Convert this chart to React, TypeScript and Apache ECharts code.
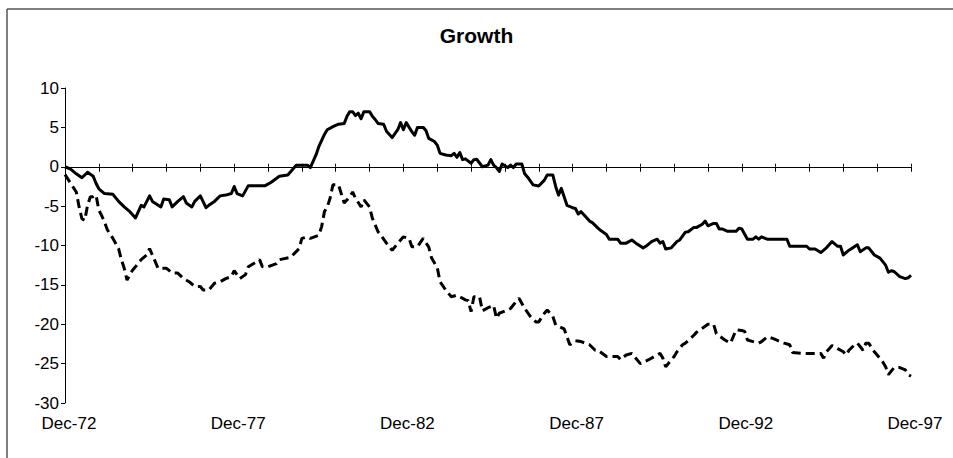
import React, { useEffect, useRef } from "react";
import * as echarts from "echarts";

// Months since Dec-72 and the value read at that month
const solidMonths = [0, 2, 4, 6, 8, 10, 11, 12, 14, 17, 19, 21, 23, 25, 27, 28, 30, 31, 34, 35, 37, 38, 40, 42, 43, 45, 46, 48, 50, 51, 53, 55, 57, 59, 60, 61, 63, 65, 71, 73, 76, 79, 82, 86, 87, 89, 90, 92, 93, 95, 97, 99, 100, 101, 102, 103, 104, 105, 106, 108, 109, 110, 111, 113, 114, 116, 118, 119, 120, 121, 123, 124, 125, 127, 128, 129, 131, 132, 133, 135, 137, 138, 139, 140, 141, 142, 144, 145, 146, 148, 150, 151, 152, 153, 154, 155, 157, 158, 159, 160, 162, 163, 164, 166, 168, 170, 171, 173, 174, 175, 176, 177, 178, 180, 181, 182, 183, 184, 186, 187, 189, 190, 192, 193, 196, 197, 199, 201, 203, 205, 206, 208, 210, 211, 212, 213, 215, 217, 218, 220, 221, 223, 224, 226, 227, 228, 230, 231, 232, 233, 235, 238, 239, 240, 242, 244, 245, 246, 247, 249, 256, 257, 263, 264, 266, 268, 270, 272, 274, 275, 276, 278, 281, 282, 284, 285, 287, 289, 291, 292, 293, 294, 296, 298, 299, 300];
const solidValues = [0, -0.3, -0.9, -1.4, -0.7, -1.2, -2.1, -2.8, -3.4, -3.5, -4.4, -5.1, -5.7, -6.5, -4.9, -5.1, -3.7, -4.4, -5.1, -4.1, -4.2, -5.1, -4.4, -3.8, -4.6, -5.1, -4.4, -3.7, -5.2, -4.9, -4.4, -3.7, -3.6, -3.4, -2.5, -3.4, -3.7, -2.4, -2.4, -2.0, -1.2, -1.05, 0.2, 0.2, -0.1, 1.5, 2.55, 4.1, 4.7, 5.1, 5.4, 5.5, 6.4, 7.0, 7.0, 6.5, 6.8, 6.1, 7.0, 7.0, 6.4, 6.0, 5.5, 5.4, 4.5, 3.7, 4.7, 5.6, 4.7, 5.6, 4.45, 4.0, 5.0, 5.0, 4.6, 3.6, 3.2, 2.75, 1.7, 1.5, 1.4, 1.7, 1.2, 1.8, 0.9, 1.0, 0.45, 0.9, 0.95, 0.0, 0.2, 0.9, 0.2, -0.1, -0.6, 0.35, -0.1, 0.2, -0.1, 0.35, 0.35, -0.9, -1.3, -2.3, -2.45, -1.7, -1.05, -1.05, -2.5, -3.6, -2.75, -3.8, -4.9, -5.2, -5.3, -6.0, -5.7, -6.1, -6.9, -7.1, -7.8, -8.1, -8.6, -9.2, -9.2, -9.7, -9.7, -9.3, -9.85, -10.3, -10.1, -9.5, -9.2, -9.7, -9.5, -10.45, -10.3, -9.5, -9.3, -8.3, -8.25, -7.7, -7.7, -7.3, -6.9, -7.5, -7.2, -7.2, -7.9, -7.9, -8.2, -8.2, -7.8, -7.9, -9.2, -9.2, -8.9, -9.2, -8.9, -9.2, -9.2, -10.1, -10.1, -10.45, -10.45, -10.9, -10.3, -9.5, -10.1, -10.1, -11.2, -10.6, -9.9, -10.8, -10.3, -10.3, -11.2, -11.6, -12.5, -13.4, -13.2, -13.3, -13.95, -14.2, -14.1, -13.8];

const dashedMonths = [0, 2, 4, 5, 6, 7, 8, 9, 10, 11, 12, 13, 14, 15, 17, 19, 20, 21, 22, 23, 24, 25, 27, 29, 30, 32, 33, 36, 38, 40, 42, 44, 46, 48, 49, 51, 53, 55, 57, 59, 60, 62, 64, 65, 68, 69, 70, 72, 75, 76, 80, 83, 84, 86, 87, 90, 91, 92, 93, 94, 95, 97, 99, 101, 102, 103, 105, 106, 108, 109, 111, 112, 114, 116, 119, 120, 122, 123, 125, 127, 129, 130, 132, 133, 135, 137, 139, 140, 142, 143, 144, 145, 147, 148, 150, 152, 153, 154, 157, 158, 160, 161, 163, 165, 167, 168, 170, 171, 173, 174, 177, 178, 179, 180, 181, 183, 186, 188, 189, 192, 196, 197, 199, 201, 204, 207, 209, 211, 212, 213, 216, 217, 219, 220, 223, 224, 226, 228, 230, 231, 234, 236, 238, 240, 241, 242, 245, 246, 247, 249, 251, 253, 255, 257, 258, 261, 268, 269, 270, 272, 274, 276, 277, 278, 280, 281, 283, 284, 285, 287, 288, 290, 291, 292, 294, 296, 298, 299, 300];
const dashedValues = [-1.0, -2.1, -3.2, -5.1, -6.6, -6.8, -4.9, -3.8, -3.8, -3.6, -5.5, -6.2, -7.0, -8.0, -9.1, -10.4, -11.8, -12.9, -14.4, -13.7, -13.1, -12.7, -11.8, -11.2, -10.4, -12.05, -12.9, -12.9, -13.5, -13.5, -14.2, -14.6, -15.2, -15.2, -15.65, -15.65, -14.8, -14.6, -14.2, -13.95, -13.2, -14.2, -13.7, -12.7, -12.05, -11.8, -12.7, -12.7, -12.3, -11.8, -11.5, -10.4, -9.1, -8.9, -9.1, -8.7, -7.6, -5.7, -5.1, -4.0, -2.3, -2.3, -4.6, -3.8, -3.2, -4.0, -5.1, -4.2, -5.1, -6.55, -8.25, -8.7, -9.7, -10.6, -9.3, -8.9, -9.1, -10.15, -10.15, -9.1, -10.2, -11.6, -12.8, -14.6, -15.65, -16.5, -16.3, -16.5, -16.9, -17.0, -18.4, -16.5, -16.5, -18.3, -17.9, -17.6, -19.25, -18.6, -18.2, -18.0, -17.1, -16.7, -18.0, -19.0, -19.7, -19.7, -18.6, -18.2, -19.0, -20.1, -20.6, -21.6, -22.6, -22.4, -22.1, -22.2, -22.6, -23.3, -23.3, -24.1, -24.1, -24.5, -23.9, -23.7, -25.0, -24.5, -24.1, -23.7, -24.3, -25.4, -24.1, -23.5, -22.6, -22.4, -21.4, -21.0, -20.5, -20.0, -20.0, -21.2, -22.0, -22.4, -20.7, -20.8, -20.9, -22.0, -22.3, -22.4, -22.2, -21.6, -21.8, -22.1, -22.4, -22.6, -23.6, -23.7, -23.7, -24.3, -23.5, -22.7, -23.1, -23.5, -23.9, -23.3, -22.6, -22.4, -23.3, -22.4, -22.4, -23.5, -23.9, -24.8, -25.4, -26.4, -25.5, -25.5, -25.8, -26.4, -26.6];

const titleText = "Growth";
const startYear = 72;
const totalMonths = 300;
const yMin = -30;
const yMax = 10;
const yStep = 5;

export default function App() {
  const ref = useRef<HTMLDivElement>(null);

  useEffect(() => {
    if (!ref.current) return;
    const chart = echarts.init(ref.current, null, { renderer: "svg" });
    const font = "'Liberation Sans', Arial, Helvetica, sans-serif";
    const black = "#000";
    const xBase = { type: "value", min: 0, max: totalMonths, interval: 12, splitLine: { show: false } };
    const yBase = { type: "value", min: yMin, max: yMax, interval: yStep, splitLine: { show: false } };
    const solidData = solidMonths.map((m, i) => [m, solidValues[i]]);
    const dashedData = dashedMonths.map((m, i) => [m, dashedValues[i]]);

    chart.setOption({
      animation: false,
      backgroundColor: "#fff",
      title: {
        text: titleText,
        left: "center",
        top: 20,
        textStyle: { fontFamily: font, fontSize: 21, fontWeight: "bold", color: black },
      },
      grid: { left: 65, right: 42, top: 88, bottom: 55 },
      xAxis: [
        {
          ...xBase,
          position: "bottom",
          axisLine: { show: false, onZero: false },
          axisTick: { show: false },
          axisLabel: {
            margin: 12,
            fontSize: 17,
            fontFamily: font,
            color: black,
            padding: [0, 0, 0, 8],
            formatter: (v: number) => (v % 60 === 0 ? "Dec-" + (startYear + v / 12) : ""),
          },
        },
        {
          ...xBase,
          position: "bottom",
          axisLine: { show: true, onZero: true, onZeroAxisIndex: 0, lineStyle: { color: black, width: 1 } },
          axisTick: { show: true, length: 5, lineStyle: { color: black, width: 1 } },
          axisLabel: { show: false },
        },
        {
          ...xBase,
          position: "top",
          axisLine: { show: true, onZero: true, onZeroAxisIndex: 1, lineStyle: { color: black, width: 1 } },
          axisTick: { show: true, length: 3, lineStyle: { color: black, width: 1 } },
          axisLabel: { show: false },
        },
      ],
      yAxis: [
        {
          ...yBase,
          position: "left",
          axisLine: { show: true, onZero: false, lineStyle: { color: black, width: 1 } },
          axisTick: { show: true, length: 4, lineStyle: { color: black, width: 1 } },
          axisLabel: { margin: 6, fontSize: 17, fontFamily: font, color: black },
        },
        {
          ...yBase,
          position: "left",
          axisLine: { show: false, onZero: false },
          axisTick: { show: false },
          axisLabel: { show: false },
        },
      ],
      graphic: [
        { type: "line", shape: { x1: 7, y1: 9, x2: 953, y2: 9 }, style: { stroke: "#808080", lineWidth: 2 } },
        { type: "line", shape: { x1: 7, y1: 9, x2: 7, y2: 458 }, style: { stroke: "#555", lineWidth: 1.5 } },
      ],
      series: [
        {
          name: "Series 1",
          type: "line",
          xAxisIndex: 0,
          yAxisIndex: 0,
          data: solidData,
          showSymbol: false,
          symbol: "none",
          lineStyle: { color: black, width: 3, type: "solid", join: "round" },
        },
        {
          name: "Series 2",
          type: "line",
          xAxisIndex: 0,
          yAxisIndex: 0,
          data: dashedData,
          showSymbol: false,
          symbol: "none",
          lineStyle: { color: black, width: 3, type: [9, 5] },
        },
      ],
    });
    return () => chart.dispose();
  }, []);

  return (
    <div
      ref={ref}
      style={{ position: "absolute", left: 0, top: 0, width: 953, height: 458 }}
    />
  );
}
